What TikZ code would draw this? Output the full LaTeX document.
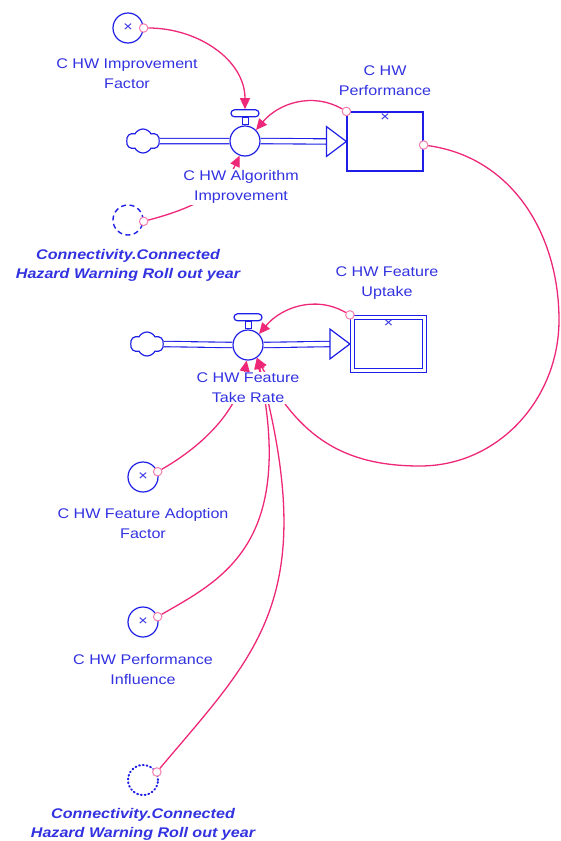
\documentclass[tikz,border=0pt]{standalone}
\usepackage{fontspec}
\setmainfont{Liberation Sans}[FakeStretch=1.15]
\usetikzlibrary{arrows.meta, positioning, shapes.symbols}
\definecolor{vblue}{RGB}{30,30,230}
\definecolor{vtext}{RGB}{50,50,225}
\definecolor{vpink}{RGB}{238,40,120}

\begin{document}
\begin{tikzpicture}[x=1pt, y=1pt, font=\fontsize{14}{20}\selectfont, text=vtext,
  auxv/.style={circle, draw=vblue, line width=1.2pt, minimum size=30pt, inner sep=0pt, font=\fontsize{14}{14}\selectfont},
  ghostdash/.style={auxv, line width=1.4pt, dash pattern=on 5pt off 3.5pt},
  ghostdot/.style={auxv, line width=2pt, dash pattern=on 0.9pt off 2.9pt, line cap=round},
  valvebody/.style={circle, draw=vblue, fill=white, line width=1.2pt, minimum size=30pt, inner sep=0pt},
  valvestem/.style={rectangle, draw=vblue, fill=white, line width=1pt, minimum width=6pt, minimum height=7pt, inner sep=0pt},
  valvecap/.style={rectangle, rounded corners=3.5pt, draw=vblue, fill=white, line width=1.2pt, minimum width=28pt, minimum height=7pt, inner sep=0pt},
  stockbox/.style={rectangle, draw=vblue, line width=1.2pt, inner sep=0pt},
  source/.style={cloud, cloud puffs=6, cloud puff arc=125, aspect=1.4, draw=vblue, line width=1.2pt, minimum width=33pt, minimum height=24pt, inner sep=0pt},
  pipe/.style={draw=vblue, line width=1.1pt, double=white, double distance=4.3pt},
  flowhead/.style={draw=vblue, fill=white, line width=1.2pt},
  ring/.style={circle, draw=vpink!60, fill=white, line width=1pt, minimum size=8.5pt, inner sep=0pt},
  conn/.style={draw=vpink, line width=1.3pt, -{Triangle[length=11pt, width=10pt]}},
  txt/.style={align=center, fill=white, inner sep=1pt},
  ghosttxt/.style={txt, font=\fontsize{14}{19}\selectfont\bfseries\itshape},
  xmark/.style={font=\fontsize{14}{14}\selectfont, inner sep=0pt}]
\useasboundingbox (0,0) rectangle (561,-841);

% algorithm improvement flow
\node[source] (cloudA) at (143,-141) {};
\node[valvebody] (valveA) at (245,-141) {};
\node[valvestem, above=0pt of valveA] (stemA) {};
\node[valvecap, above=0pt of stemA] (capA) {};
\node[stockbox, minimum width=76pt, minimum height=59pt] (stockA) at (385,-141.5) {};
\node[xmark, below=2pt of stockA.north] (xA) {×};
\draw[pipe] (cloudA.east) -- (valveA.west);
\draw[pipe] (valveA.east) -- ([xshift=-20pt]stockA.west);
\draw[flowhead] (stockA.west) -- ++(-20,15) -- ++(0,-30) -- cycle;

% take rate flow
\node[source] (cloudB) at (147,-344) {};
\node[valvebody] (valveB) at (248,-345) {};
\node[valvestem, above=0pt of valveB] (stemB) {};
\node[valvecap, above=0pt of stemB] (capB) {};
\node[stockbox, double=white, double distance=3.5pt, minimum width=72pt, minimum height=53pt] (stockB) at (388.5,-344) {};
\node[xmark, below=3pt of stockB.north] (xB) {×};
\draw[pipe] (cloudB.east) -- (valveB.west);
\draw[pipe] (valveB.east) -- ([xshift=-22pt]stockB.west);
\draw[flowhead] ([xshift=-2pt]stockB.west) -- ++(-20,15) -- ++(0,-30) -- cycle;

% auxiliaries and shadow variables
\node[auxv] (impf) at (128,-28) {×};
\node[ghostdash] (rollA) at (128,-220) {};
\node[auxv] (adopt) at (143,-477) {×};
\node[auxv] (perfinf) at (143,-622) {×};
\node[ghostdot] (rollB) at (143,-780) {};

\node[ring] (rImpf) at (impf.east) {};
\node[ring] (rRollA) at (rollA.-5) {};
\node[ring] (rPerfTop) at (stockA.north west) {};
\node[ring] (rPerfRight) at ([yshift=-3.5pt]stockA.east) {};
\node[ring] (rUptake) at ([shift={(-2pt,2pt)}]stockB.north west) {};
\node[ring] (rAdopt) at (adopt.20) {};
\node[ring] (rPerfinf) at (perfinf.20) {};
\node[ring] (rRollB) at (rollB.30) {};

\coordinate (loopE) at (559,-320);
\coordinate (loopS) at (420,-466);

\draw[conn] (rImpf) to[out=0, in=90] (capA.north);
\draw[conn] (rPerfTop) to[out=150, in=50] (valveA.45);
\draw[conn] (rRollA) to[out=15, in=-115] (valveA.-110);
\draw[conn] (rUptake) to[out=150, in=50] (valveB.45);
\draw[conn] (rAdopt) to[out=30, in=-100, out distance=50pt, in distance=50pt] (valveB.-95);
\draw[conn] (rPerfinf) to[out=30, in=-78, out distance=70pt, in distance=190pt] (valveB.-55);
\draw[conn] (rRollB) to[out=50, in=-75, out distance=150pt, in distance=250pt] (valveB.-55);
\draw[conn] (rPerfRight) to[out=-8, in=90] (loopE) to[out=-90, in=0] (loopS) to[out=180, in=-62, in distance=90pt] (valveB.-55);

% labels
\node[txt] (impfL) at (127,-74) {C HW Improvement\\Factor};
\node[txt] (perfL) at (385,-81) {C HW\\Performance};
\node[txt] (algL) at (241,-187) {C HW Algorithm\\Improvement};
\node[ghosttxt] (rollAL) at (128,-265) {Connectivity.Connected\\Hazard Warning Roll out year};
\node[txt] (uptL) at (387,-283) {C HW Feature\\Uptake};
\node[txt] (rateL) at (248,-388) {C HW Feature\\Take Rate};
\node[txt] (adoptL) at (143,-523) {C HW Feature Adoption\\Factor};
\node[txt] (perfinfL) at (143,-669) {C HW Performance\\Influence};
\node[ghosttxt] (rollBL) at (143,-824) {Connectivity.Connected\\Hazard Warning Roll out year};
\end{tikzpicture}
\end{document}
